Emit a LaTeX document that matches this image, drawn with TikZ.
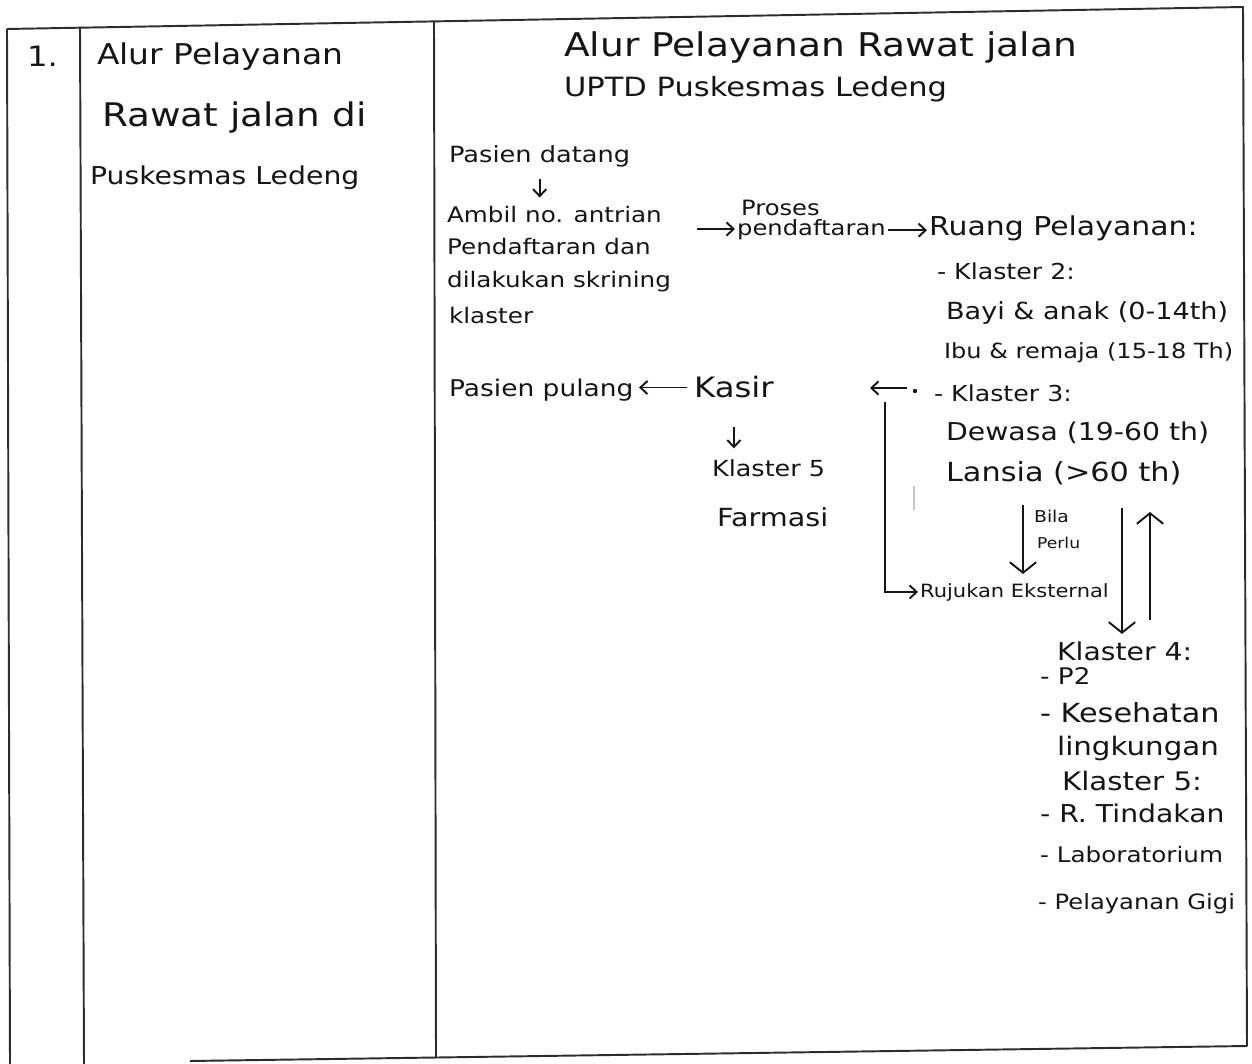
\documentclass[tikz,border=0pt]{standalone}
\usepackage{fontspec}
\usepackage{graphicx}
\newfontfamily\hand[FakeStretch=1.15]{DejaVu Sans}
\usetikzlibrary{arrows.meta}
\newcommand\hsz[1]{\fontsize{#1}{#1}\selectfont}
\definecolor{ink}{HTML}{151515}
\begin{document}
\begin{tikzpicture}[x=0.02cm,y=-0.02cm,
  tbl/.style={draw=ink!90, line width=1.1pt, line join=round},
  txt/.style={anchor=base west, inner sep=1pt, text=ink},
  arr/.style={draw=ink, line width=1.1pt, -{Straight Barb[length=4pt,width=7.5pt]}},
  barr/.style={draw=ink, line width=1.1pt, -{Straight Barb[length=6pt,width=15pt]}},
  plain/.style={draw=ink, line width=1.1pt}]
\useasboundingbox (0,0) rectangle (1252,1064);
\fill[white] (0,0) rectangle (1252,1064);

% table frame
\draw[tbl] (7,29) -- (1243,7) -- (1247,1046) -- (190,1061);
\draw[tbl] (7,29) -- (10,1064);
\draw[tbl] (80,27) -- (84,1064);
\draw[tbl] (434,22) -- (436,1058);

% left columns
\node[txt, font=\hand\hsz{16}] (num) at (25,67) {1.};
\node[txt, font=\hand\hsz{16.3}] (l1) at (95,65) {Alur Pelayanan};
\node[txt, font=\hand\hsz{18.5}] (l2) at (100,127) {Rawat jalan di};
\node[txt, font=\hand\hsz{14}] (l3) at (88,185) {Puskesmas Ledeng};

% title
\node[txt, font=\hand\hsz{18.6}] (t1) at (562,57) {Alur Pelayanan Rawat jalan};
\node[txt, font=\hand\hsz{15.1}] (t2) at (562,97) {UPTD Puskesmas Ledeng};

% flow
\node[txt, font=\hand\hsz{12.7}] (datang) at (447,163) {Pasien datang};
\node[txt, font=\hand\hsz{12.2}] (ambil) at (445,223) {Ambil no. antrian};
\node[txt, font=\hand\hsz{12.2}] (ambil2) at (445,255) {Pendaftaran dan};
\node[txt, font=\hand\hsz{12.2}] (ambil3) at (445,288) {dilakukan skrining};
\node[txt, font=\hand\hsz{12.2}] (ambil4) at (447,324) {klaster};

\node[txt, font=\hand\hsz{12}] (proses) at (739,216) {Proses};
\node[txt, font=\hand\hsz{12}] (pend) at (735,236) {pendaftaran};

\node[txt, font=\hand\hsz{14.8}] (ruang) at (927,236) {Ruang Pelayanan:};
\node[txt, font=\hand\hsz{12.5}] (k2) at (935,280) {- Klaster 2:};
\node[txt, font=\hand\hsz{13.4}] (bayi) at (944,320) {Bayi \& anak (0-14th)};
\node[txt, font=\hand\hsz{11.9}] (ibu) at (942,359) {Ibu \& remaja (15-18 Th)};
\node[txt, font=\hand\hsz{12.5}] (k3) at (932,401) {- Klaster 3:};
\node[txt, font=\hand\hsz{14}] (dewasa) at (944,440) {Dewasa (19-60 th)};
\node[txt, font=\hand\hsz{15}] (lansia) at (944,481) {Lansia (>60 th)};

\node[txt, font=\hand\hsz{13.1}] (pulang) at (447,397) {Pasien pulang};
\node[txt, font=\hand\hsz{16}] (kasir) at (692,398) {Kasir};
\node[txt, font=\hand\hsz{12.6}] (kl5l) at (710,477) {Klaster 5};
\node[txt, font=\hand\hsz{14.2}] (farmasi) at (715,526) {Farmasi};

\node[txt, font=\hand\hsz{9.3}] (bila) at (1032,522) {Bila};
\node[txt, font=\hand\hsz{8.5}] (perlu) at (1035,548) {Perlu};
\node[txt, font=\hand\hsz{10.4}] (rujukan) at (918,597) {Rujukan Eksternal};

\node[txt, font=\hand\hsz{14}] (k4) at (1055,660) {Klaster 4:};
\node[txt, font=\hand\hsz{13}] (p2) at (1038,684) {- P2};
\node[txt, font=\hand\hsz{15}] (kes) at (1038,722) {- Kesehatan};
\node[txt, font=\hand\hsz{14.5}] (ling) at (1055,755) {lingkungan};
\node[txt, font=\hand\hsz{14.5}] (k5) at (1060,790) {Klaster 5:};
\node[txt, font=\hand\hsz{14}] (tind) at (1038,822) {- R. Tindakan};
\node[txt, font=\hand\hsz{12.2}] (lab) at (1038,862) {- Laboratorium};
\node[txt, font=\hand\hsz{12}] (gigi) at (1036,909) {- Pelayanan Gigi};

% connectors
\draw[arr, shorten <=5.5pt, shorten >=4pt] (datang.south) -- (datang.south |- ambil.north);
\coordinate (r1) at (697,229);
\draw[arr] (r1) -- (r1 -| pend.west);
\draw[arr] (pend.east) -- (pend.east -| ruang.west);
\draw[arr, shorten <=3pt, shorten >=2pt] (kasir.west) -- (kasir.west -| pulang.east);
\draw[arr, shorten <=15pt, shorten >=5.5pt] (kasir.south) -- (kasir.south |- kl5l.north);

\coordinate (b1) at (907,388);
\coordinate (b2) at (870,388);
\draw[arr] (b1) -- (b2);
\fill[ink] (915,391) circle (2.2);

\coordinate (v1) at (885,402);
\draw[arr] (v1) |- (rujukan.west);

\coordinate (bp) at (1023,505);
\draw[barr, shorten >=4pt] (bp) -- (bp |- rujukan.north);

\coordinate (d1) at (1122,508);
\draw[barr, shorten >=3pt] (d1) -- (d1 |- k4.north);
\coordinate (u1) at (1150,620);
\coordinate (u2) at (1150,512);
\draw[barr] (u1) -- (u2);

% faint scan mark
\draw[gray!45, line width=1pt] (914,486) -- (914,510);
\end{tikzpicture}
\end{document}
